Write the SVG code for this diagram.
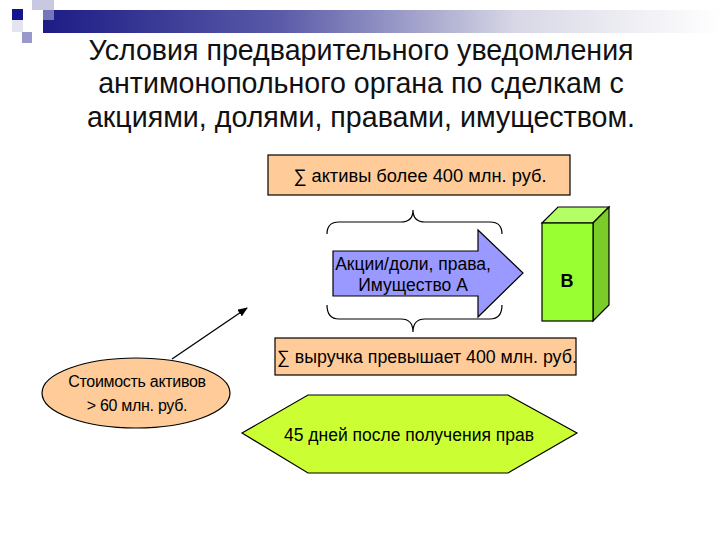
<svg xmlns="http://www.w3.org/2000/svg" width="720" height="540" viewBox="0 0 720 540">
<defs>
<linearGradient id="bar" x1="0" y1="0" x2="1" y2="0">
<stop offset="0" stop-color="#1c1c86"/>
<stop offset="0.35" stop-color="#5a5aa8"/>
<stop offset="0.7" stop-color="#d8d8e6"/>
<stop offset="1" stop-color="#ffffff"/>
</linearGradient>
<marker id="ah" markerWidth="10" markerHeight="8" refX="9" refY="4" orient="auto" markerUnits="userSpaceOnUse">
<path d="M0,0 L10,4 L0,8 Z" fill="#000"/>
</marker>
<style>
.t{font-family:"Liberation Sans",Arial,sans-serif;fill:#000;text-anchor:middle}
.title{font-size:28.6px;fill:#111}
.lbl{font-size:18.3px}
.sm{font-size:16px;letter-spacing:-0.3px}
.arr{font-size:17.5px}
.box{stroke:#000;stroke-width:1.2}
.brace{fill:none;stroke:#000;stroke-width:1.2}
</style>
</defs>
<rect width="720" height="540" fill="#fff"/>
<g id="decor">
<rect x="43" y="10" width="677" height="23" fill="url(#bar)"/>
<rect x="32" y="0" width="22" height="10" fill="#c8c8e0"/>
<rect x="43" y="10" width="11" height="10" fill="#b0b0d8" opacity="0.6"/>
<rect x="22" y="32" width="10" height="11" fill="#9898cc"/>
<rect x="12" y="9" width="11" height="11" fill="#14148c"/>
<rect x="12" y="20" width="11" height="12" fill="#e4e4f0"/>
</g>
<g id="title">
<text class="t title" x="361" y="60">Условия предварительного уведомления</text>
<text class="t title" x="361" y="93">антимонопольного органа по сделкам с</text>
<text class="t title" x="361" y="127">акциями, долями, правами, имуществом.</text>
</g>
<g id="assets">
<rect class="box" x="268" y="155" width="302" height="40" fill="#ffcc99"/>
<text class="t lbl" x="420" y="182">∑ активы более 400 млн. руб.</text>
</g>
<g id="braces">
<path class="brace" d="M327,234 Q327,222 339,222 L401,222 Q413,222 413,210 Q413,222 425,222 L490,222 Q502,222 502,234"/>
<path class="brace" d="M327,305 Q327,319 339,319 L401,319 Q413,319 413,332 Q413,319 425,319 L490,319 Q502,319 502,305"/>
</g>
<g id="shares">
<path class="box" d="M333,251 L478,251 L478,230 L523,273 L478,317 L478,296 L333,296 Z" fill="#9999ff"/>
<text class="t arr" x="413" y="270">Акции/доли, права,</text>
<text class="t arr" x="413" y="291">Имущество А</text>
</g>
<g id="b">
<path class="box" d="M542,223 L558,207 L609,207 L593,223 Z" fill="#b3ff66"/>
<path class="box" d="M593,223 L609,207 L609,305 L593,321 Z" fill="#7acc29"/>
<rect class="box" x="542" y="223" width="51" height="98" fill="#99ff33"/>
<text class="t" x="567" y="287" style="font-size:18px;font-weight:bold">В</text>
</g>
<g id="revenue">
<rect class="box" x="275" y="338" width="301" height="37" fill="#ffcc99"/>
<text class="t" x="427" y="363" style="font-size:17.8px">∑ выручка превышает 400 млн. руб.</text>
</g>
<g id="cost">
<ellipse class="box" cx="136" cy="393" rx="94" ry="35" fill="#ffcc99"/>
<text class="t sm" x="137" y="387">Стоимость активов</text>
<text class="t sm" x="137" y="411">&gt; 60 млн. руб.</text>
</g>
<g id="term">
<path class="box" d="M242,433 L308,395 L508,395 L577,433 L508,473 L308,473 Z" fill="#ccff33"/>
<text class="t" x="409" y="441" style="font-size:17.5px">45 дней после получения прав</text>
</g>
<g id="connectors">
<line x1="172" y1="359" x2="247" y2="308" stroke="#000" stroke-width="1.3" marker-end="url(#ah)"/>
</g>
</svg>
